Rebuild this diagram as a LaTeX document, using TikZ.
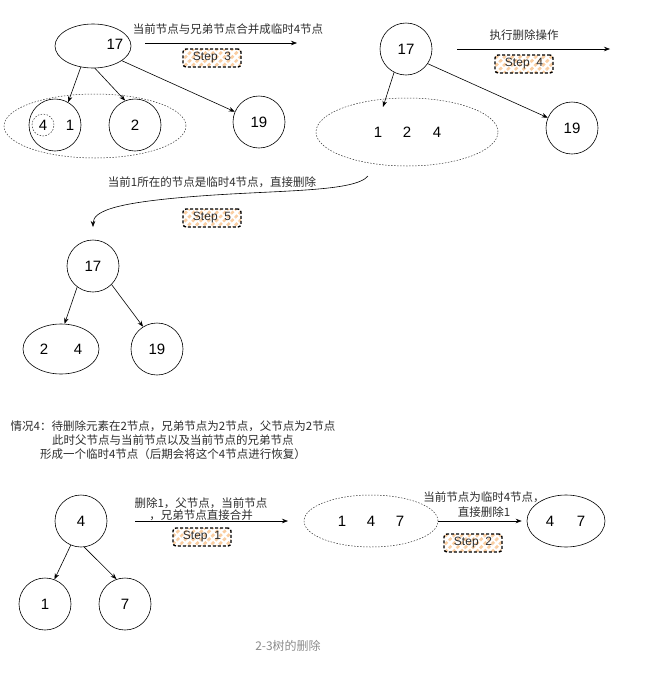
\documentclass[tikz,border=0pt]{standalone}
\usepackage{fontspec}
\setmainfont{Liberation Sans}
\newfontfamily\cjk{Noto Sans CJK SC}
\usetikzlibrary{shapes.geometric,arrows.meta,patterns.meta}
\definecolor{stripe}{RGB}{250,205,160}
\definecolor{lbl}{RGB}{45,45,45}
\definecolor{cap}{RGB}{140,140,140}
\begin{document}
\begin{tikzpicture}[x=1pt,y=-1pt,
  circ/.style={circle,draw,line width=0.6pt,minimum size=52pt,inner sep=0pt,font=\fontsize{15}{15}\selectfont},
  ell/.style={ellipse,draw,line width=0.6pt,inner sep=0pt},
  dell/.style={ellipse,draw=black!80,dash pattern=on 1.5pt off 1.5pt,line width=0.5pt,inner sep=0pt},
  num/.style={font=\fontsize{15}{15}\selectfont,inner sep=0pt},
  lab/.style={font=\cjk\fontsize{11.5}{13}\selectfont,text=lbl,inner sep=0pt,align=center},
  stepbox/.style={draw,line width=1.4pt,dash pattern=on 3pt off 2pt,rounded corners=3pt,
    minimum width=58pt,minimum height=18pt,inner sep=0pt,font=\fontsize{12}{12}\selectfont,text=lbl,
    preaction={fill=white},pattern={Lines[angle=45,distance=5.5pt,line width=2.6pt]},pattern color=stripe},
  arr/.style={-{Stealth[length=6pt,width=4.5pt]},line width=0.6pt},
]
\useasboundingbox (0,0) rectangle (647,686);

% ---------- top left ----------
\node[ell,minimum width=76pt,minimum height=44pt] (e17) at (93,46) {};
\node[num] (t17) at (115,44) {17};
\node[dell,minimum width=182pt,minimum height=64pt] (big) at (95,126) {};
\node[circ] (c1) at (55,125) {};
\node[num] (t1) at (70,125) {1};
\node[circle,draw=black!80,dash pattern=on 1.5pt off 1.5pt,line width=0.5pt,minimum size=22pt,inner sep=0pt,font=\fontsize{15}{15}\selectfont] (c4) at (43,125) {4};
\node[circ] (c2) at (135,125) {2};
\node[circ] (c19) at (259,122) {19};
\draw[arr] (e17.240) -- (c1.60);
\draw[arr] (e17.275) -- (c2.112);
\draw[arr] (e17.333) -- (c19.157);

\coordinate (a3s) at (145,43);
\coordinate (a3e) at (297,43);
\draw[arr] (a3s) -- (a3e);
\node[lab] (t3) at (228,29) {当前节点与兄弟节点合并成临时4节点};
\node[stepbox] (s3) at (212,58) {Step\ \ 3};

% ---------- top right ----------
\node[circ] (c17b) at (406,49) {17};
\node[dell,minimum width=182pt,minimum height=68pt] (big2) at (407,132) {};
\node[num] (n1) at (378,132) {1};
\node[num] (n2) at (407,132) {2};
\node[num] (n4) at (437,132) {4};
\node[circ] (c19b) at (572,128) {19};
\coordinate (b2in) at (383,107);
\draw[arr] (c17b.243) -- (b2in);
\draw[arr] (c17b.326) -- (c19b.157);

\coordinate (a4s) at (457,49);
\coordinate (a4e) at (610,49);
\draw[arr] (a4s) -- (a4e);
\node[lab] (t4) at (524,35) {执行删除操作};
\node[stepbox] (s4) at (524,64) {Step\ \ 4};

% ---------- curved arrow ----------
\coordinate (cs) at (368,176);
\coordinate (cm) at (200,196);
\coordinate (ce) at (93,227);
\draw[arr] (cs) .. controls (355,192) and (280,190) .. (cm) .. controls (120,202) and (93,210) .. (ce);
\node[lab] (t5) at (212,182) {当前1所在的节点是临时4节点，直接删除};
\node[stepbox] (s5) at (212,218) {Step\ \ 5};

% ---------- middle tree ----------
\node[circ] (m17) at (93,266) {17};
\node[ell,minimum width=76pt,minimum height=50pt] (m24) at (61,349) {};
\node[num] (m2) at (44,349) {2};
\node[num] (m4) at (78,349) {4};
\node[circ] (m19) at (157,349) {19};
\draw[arr] (m17.233) -- (m24.82);
\draw[arr] (m17.315) -- (m19.122);

% ---------- info text ----------
\node[lab,font=\cjk\fontsize{11.5}{14}\selectfont] (info) at (173,440)
  {情况4：待删除元素在2节点，兄弟节点为2节点，父节点为2节点\\
   此时父节点与当前节点以及当前节点的兄弟节点\\
   形成一个临时4节点（后期会将这个4节点进行恢复）};

% ---------- bottom ----------
\node[circ] (b4) at (81,521) {4};
\node[circ] (b1) at (45,604) {1};
\node[circ] (b7) at (125,604) {7};
\draw[arr] (b4.247) -- (b1.69);
\draw[arr] (b4.277) -- (b7.109);

\coordinate (a1s) at (135,521);
\coordinate (a1e) at (288,521);
\draw[arr] (a1s) -- (a1e);
\node[lab,font=\cjk\fontsize{11.5}{12}\selectfont] (t1l) at (201,509) {删除1，父节点，当前节点\\，兄弟节点直接合并};
\node[stepbox] (s1) at (202,537) {Step\ \ 1};

\node[dell,minimum width=134pt,minimum height=52pt] (e147) at (371,521) {};
\node[num] (p1) at (342,521) {1};
\node[num] (p4) at (371,521) {4};
\node[num] (p7) at (400,521) {7};
\node[ell,minimum width=78pt,minimum height=52pt] (e47) at (566,521) {};
\node[num] (q4) at (550,521) {4};
\node[num] (q7) at (581,521) {7};
\draw[arr] (e147.east) -- ([xshift=-5pt]e47.west);
\node[lab,font=\cjk\fontsize{11.5}{15}\selectfont] (t2l) at (484,505) {当前节点为临时4节点，\\直接删除1};
\node[stepbox] (s2) at (473,543) {Step\ \ 2};

% ---------- caption ----------
\node[font=\cjk\fontsize{12}{12}\selectfont,text=cap,inner sep=0pt] (capt) at (288,646) {2-3树的删除};
\end{tikzpicture}
\end{document}
